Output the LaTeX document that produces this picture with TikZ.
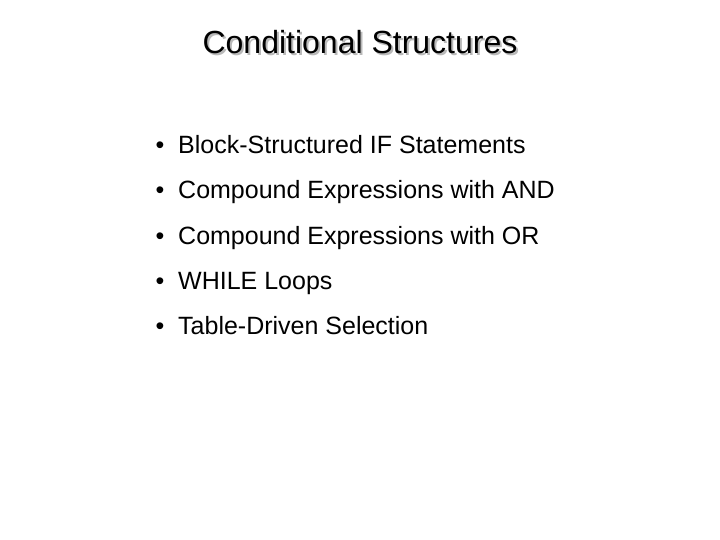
\documentclass[tikz,border=0pt]{standalone}
\usepackage{fontspec}
\setmainfont{Liberation Sans}
\begin{document}
\begin{tikzpicture}[x=1pt,y=-1pt,
  titletext/.style={font=\fontsize{32}{36}\selectfont,inner sep=0pt,anchor=base},
  item/.style={font=\fontsize{25}{28}\selectfont,anchor=base west,inner sep=0pt},
  dot/.style={font=\fontsize{25}{28}\selectfont,anchor=base,inner sep=0pt}]
\useasboundingbox[fill=white] (0,0) rectangle (720,540);
\node[titletext,text=gray!55] (ts) at (362,56) {Conditional Structures};
\node[titletext] (t) at (360,54) {Conditional Structures};
\foreach \y/\s [count=\i] in {154/Block-Structured IF Statements,199/Compound Expressions with AND,244/Compound Expressions with OR,289/WHILE Loops,334/Table-Driven Selection}{
  \node[dot] (b\i) at (160,\y) {•};
  \node[item] (i\i) at (178,\y) {\s};
}
\end{tikzpicture}
\end{document}
